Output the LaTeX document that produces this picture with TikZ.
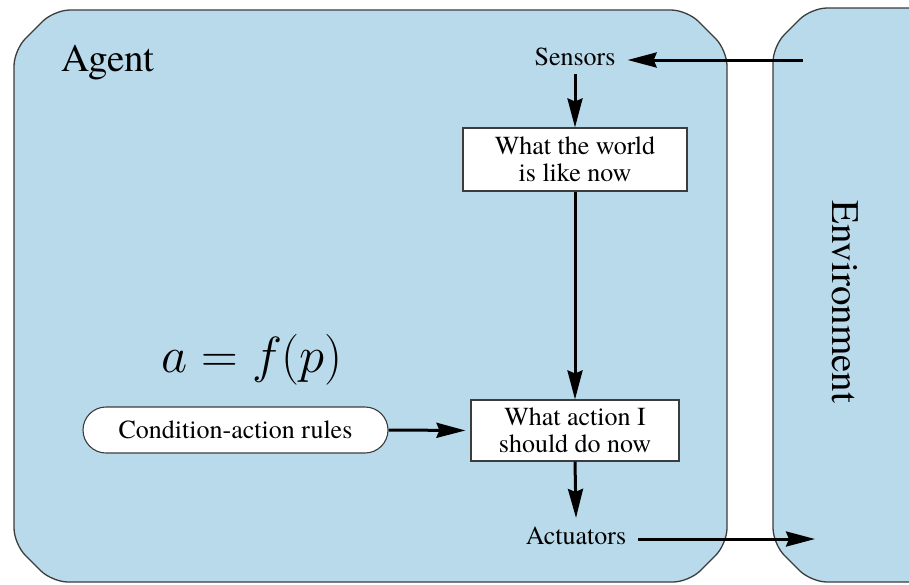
\documentclass[tikz,border=0pt]{standalone}
\usepackage{fontspec}
\setmainfont{TeX Gyre Termes}
\usetikzlibrary{arrows.meta,shapes.misc}
\definecolor{panel}{RGB}{185,218,234}
\definecolor{edge}{RGB}{60,60,60}
\tikzset{
  panelbox/.style={fill=panel,draw=edge,line width=1.3pt,rounded corners=16pt},
  procbox/.style={draw=edge,fill=white,line width=1.1pt,inner sep=0pt,align=center,font=\fontsize{26}{27}\selectfont},
  lbl/.style={inner sep=0pt,font=\fontsize{26}{27}\selectfont},
  big/.style={inner sep=0pt,font=\fontsize{39}{42}\selectfont},
  arr/.style={line width=3pt,-{Stealth[length=29pt,width=15pt,inset=3pt]}}
}
\begin{document}
\begin{tikzpicture}[x=1pt,y=-1pt]
\useasboundingbox (0,0) rectangle (909,584);
\clip (0,0) rectangle (909,584);
% agent panel
\draw[panelbox] (14,50) -- (54,10) -- (687,10) -- (727,50) -- (727,544) -- (689,582) -- (52,582) -- (14,544) -- cycle;
% environment panel
\draw[panelbox] (773,46) -- (811,8) -- (980,8) -- (980,582) -- (811,582) -- (773,544) -- cycle;

\node[big] (agentlbl) at (108,63) {Agent};
\node[big,rotate=-90] (envlbl) at (845,302) {Environment};

\node[lbl,inner xsep=12pt,inner ysep=8pt] (sensors) at (575,57) {Sensors};
\node[procbox,minimum width=224pt,minimum height=63pt] (world) at (575,159.5) {What the world\\is like now};
\node[procbox,minimum width=208pt,minimum height=61pt] (action) at (575,430.5) {What action I\\should do now};
\node[lbl,inner xsep=12pt,inner ysep=9pt] (actuators) at (576,536) {Actuators};
\node[procbox,rounded rectangle,minimum width=305pt,minimum height=46pt] (rules) at (235.5,430) {Condition-action rules};
\node[inner sep=0pt,font=\fontsize{20}{22}\selectfont,scale=2.45] (eq) at (252,360) {$a = f(p)$};

\coordinate (envIn) at (803,60);
\coordinate (envOut) at (815,539);

\draw[arr] (envIn) -- (envIn -| sensors.east);
\draw[arr] (sensors.south) -- (world.north);
\draw[arr] (world.south) -- (action.north);
\draw[arr] (action.south) -- (actuators.north);
\draw[arr] (actuators.east |- envOut) -- (envOut);
\draw[arr,shorten >=5pt] (rules.east) -- (action.west);
\end{tikzpicture}
\end{document}
